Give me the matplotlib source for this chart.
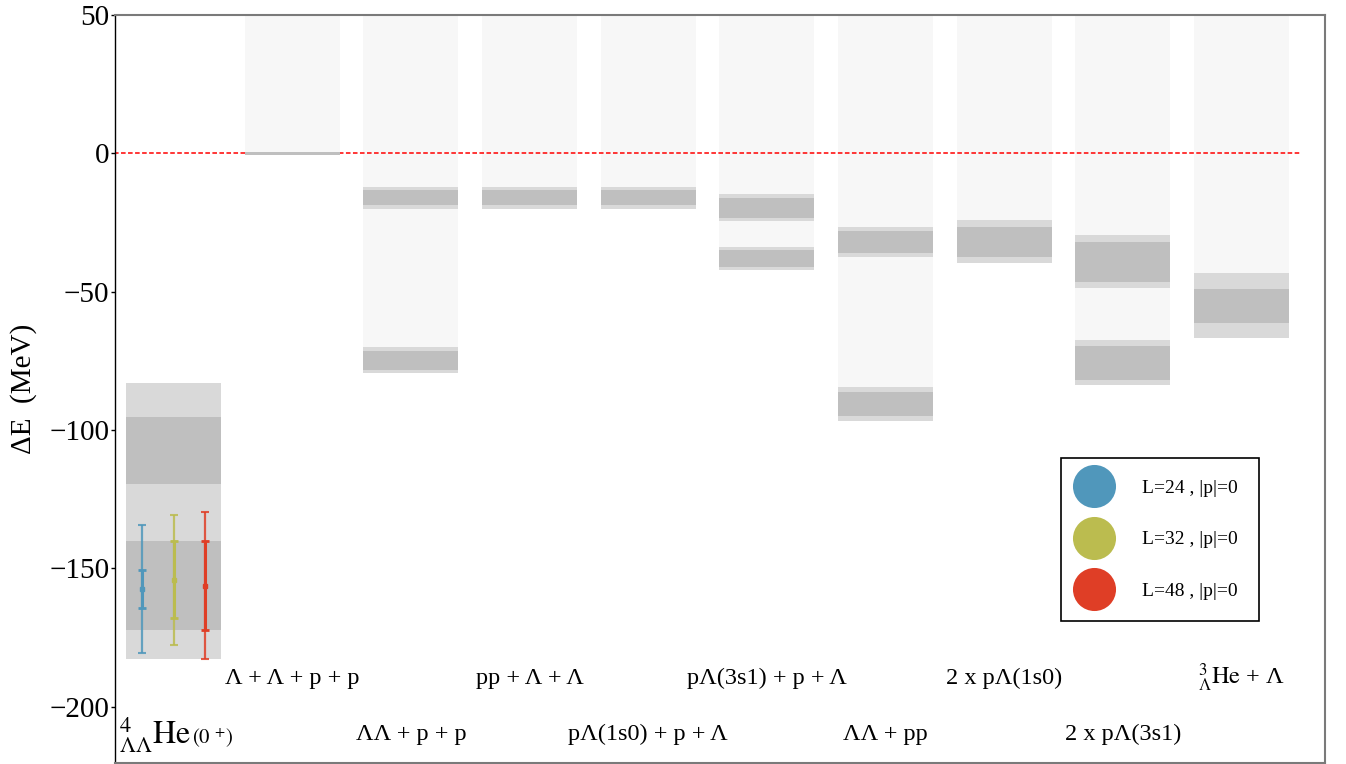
import matplotlib
matplotlib.use("Agg")
import matplotlib.pyplot as plt
from matplotlib.lines import Line2D

plt.rcParams['font.family'] = ['Liberation Serif', 'DejaVu Serif']
plt.rcParams['mathtext.fontset'] = 'stix'

# channel thresholds, one column each
channels = [
    r'${}^{4}_{\Lambda\Lambda}\mathrm{He}$',
    'Λ + Λ + p + p',
    'ΛΛ + p + p',
    'pp + Λ + Λ',
    'pΛ(1s0) + p + Λ',
    'pΛ(3s1) + p + Λ',
    'ΛΛ + pp',
    '2 x pΛ(1s0)',
    '2 x pΛ(3s1)',
    r'${}^{3}_{\Lambda}\mathrm{He}$ + Λ',
]

# (top, bottom) of the outer (light) and inner (dark) bands, MeV
light_bands = [
    [(-83.1, -182.8)],
    [(0.35, -0.75)],
    [(-12.3, -20.2), (-70.1, -79.5)],
    [(-12.3, -20.2)],
    [(-12.3, -20.2)],
    [(-14.8, -24.6), (-34.0, -42.3)],
    [(-26.7, -37.6), (-84.5, -96.8)],
    [(-24.2, -39.7)],
    [(-29.6, -48.8), (-67.6, -83.8)],
    [(-43.4, -66.8)],
]
dark_bands = [
    [(-95.4, -119.6), (-140.2, -172.3)],
    [(0.35, -0.75)],
    [(-13.4, -18.8), (-71.5, -78.4)],
    [(-13.4, -18.8)],
    [(-13.4, -18.8)],
    [(-16.3, -23.5), (-35.0, -41.2)],
    [(-28.2, -36.1), (-86.3, -95.0)],
    [(-26.7, -37.6)],
    [(-32.2, -46.6), (-69.7, -82.0)],
    [(-49.1, -61.4)],
]
has_continuum = [False, True, True, True, True, True, True, True, True, True]

# lattice results for the 4He(0+) state
series_labels = ['L=24 , |p|=0', 'L=32 , |p|=0', 'L=48 , |p|=0']
series_colors = ['#5097bb', '#bbbc4f', '#df3e26']
series_x = [-0.265, 0.0, 0.268]
center = [-157.4, -154.3, -156.3]
inner_lo = [-164.5, -168.1, -172.2]
inner_hi = [-150.6, -140.3, -140.3]
outer_lo = [-180.5, -177.9, -182.7]
outer_hi = [-134.3, -130.7, -129.8]

fig = plt.figure(figsize=(13.46, 7.64), dpi=100)
ax = fig.add_axes([115 / 1346, 1.5 / 764, 1210 / 1346, 747.5 / 764])

w = 0.8
for i in range(len(channels)):
    lows = [b for _, b in light_bands[i]]
    if has_continuum[i]:
        ax.bar(i, 50 - min(lows), bottom=min(lows), width=w, color='#f7f7f7', zorder=1)
    for t, b in light_bands[i]:
        ax.bar(i, t - b, bottom=b, width=w, color='#d9d9d9', zorder=3)
    for t, b in dark_bands[i]:
        ax.bar(i, t - b, bottom=b, width=w, color='#bfbfbf', zorder=3)

ax.plot([-0.5, 9.5], [0, 0], color='red', lw=1.1, dashes=(3, 1.6), zorder=2)

for k in range(3):
    c = center[k]
    ax.errorbar(series_x[k], c, yerr=[[c - outer_lo[k]], [outer_hi[k] - c]], fmt='none',
                ecolor=series_colors[k], elinewidth=1.6, capsize=3, capthick=1.5,
                alpha=0.85, zorder=4)
    ax.errorbar(series_x[k], c, yerr=[[c - inner_lo[k]], [inner_hi[k] - c]], fmt='s', ms=3.5,
                color=series_colors[k], elinewidth=2.2, capsize=3, capthick=2, zorder=5)

# channel names, staggered in two rows
for i, name in enumerate(channels):
    if i == 0:
        ax.text(-0.459, -213.5, name, fontsize=23, ha='left', va='baseline')
        ax.text(0.158, -213.5, r'$(0\ ^{+})$', fontsize=15, ha='left', va='baseline')
    elif i % 2 == 1:
        ax.text(i, -191.9, name, fontsize=17.5, ha='center', va='baseline')
    else:
        ax.text(i, -212.0, name, fontsize=17.5, ha='center', va='baseline')

ax.set_xlim(-0.493, 9.704)
ax.set_ylim(-220.2, 50)
ax.set_xticks([])
ax.set_yticks([-200, -150, -100, -50, 0, 50])
ax.tick_params(axis='y', direction='out', length=3, width=1, pad=1, labelsize=21)
ax.set_ylabel('ΔE  (MeV)', fontsize=21)
ax.yaxis.set_label_coords(-0.0645, 0.5)

ax.spines['left'].set_color('black')
ax.spines['left'].set_linewidth(1)
for s in ['top', 'right', 'bottom']:
    ax.spines[s].set_color('#7a7a7a')
    ax.spines[s].set_linewidth(1.5)

handles = [Line2D([], [], marker='o', ls='none', markersize=31, color=col, markeredgewidth=0)
           for col in series_colors]
leg = ax.legend(handles, series_labels, loc='upper right', bbox_to_anchor=(0.9455, 0.4078),
                borderaxespad=0, fontsize=14, frameon=True, fancybox=False, framealpha=1,
                edgecolor='black', borderpad=1.1, handlelength=1.2, handletextpad=1.88,
                labelspacing=1.75)
leg.get_frame().set_linewidth(1.2)

fig.savefig('out.png', dpi=100)
